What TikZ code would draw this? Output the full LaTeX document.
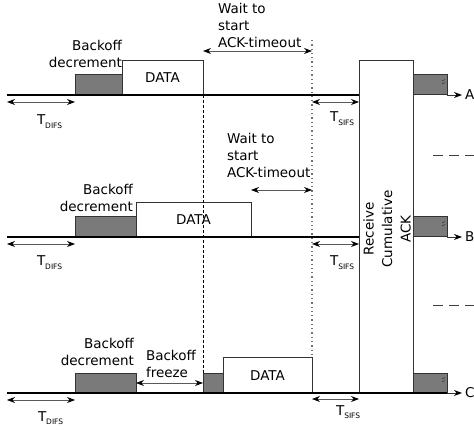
\documentclass[tikz,border=0pt]{standalone}
\usepackage{fontspec}
\setmainfont{DejaVu Sans}
\usetikzlibrary{arrows.meta}
\newcommand\tsub[1]{T\raisebox{-3.5pt}{\fontsize{7.5}{8}\selectfont #1}}
\begin{document}
\begin{tikzpicture}[x=1pt,y=-1pt,
  every node/.style={inner sep=0pt,outer sep=0pt,font=\fontsize{13.5}{17}\selectfont},
  gbox/.style={draw=black!80,fill=black!52,line width=1pt,minimum height=20pt},
  dbox/.style={draw=black!80,fill=white,line width=1pt},
  tl/.style={draw=black,line width=1.1pt},
  dbl/.style={draw=black!65,line width=0.9pt,{Stealth[length=8pt,width=6pt,black]}-{Stealth[length=8pt,width=6pt,black]}},
  sgl/.style={draw=black!80,line width=0.9pt,-{Stealth[length=8pt,width=6pt,black]}},
  vdash/.style={draw=black,line width=0.7pt,dash pattern=on 3pt off 2pt},
  vdot/.style={draw=black!55,line width=1.3pt,dash pattern=on 1.3pt off 3pt},
  hdash/.style={draw=black!75,line width=0.9pt,dash pattern=on 10pt off 6pt},
  brk/.style={draw=black!80,line width=0.5pt}
]
\useasboundingbox (0,0) rectangle (474,430);

% coordinates for timelines
\coordinate (sA) at (7,95);
\coordinate (sB) at (7,237);
\coordinate (sC) at (7,393);

% boxes row A
\node[gbox,minimum width=47pt] (bA) at (98.5,85) {};
\node[dbox,minimum width=81pt,minimum height=34pt] (dA) at (162.5,78) {DATA};
% row B
\node[gbox,minimum width=61pt] (bB) at (105.5,227) {};
\node[dbox,minimum width=115pt,minimum height=34pt] (dB) at (193.5,220) {DATA};
% row C
\node[gbox,minimum width=61pt] (bC1) at (105.5,383) {};
\node[gbox,minimum width=20pt] (bC2) at (213,383) {};
\node[dbox,minimum width=89pt,minimum height=35pt] (dC) at (267.5,375.5) {DATA};

% ACK box
\node[dbox,minimum width=54pt,minimum height=332pt] (ack) at (386,227) {};
\node[rotate=90,align=center,font=\fontsize{13.5}{18.5}\selectfont] (ackt) at (387,229) {Receive\\Cumulative\\ACK};

% right gray boxes
\node[gbox,minimum width=34pt] (rA) at (430,85) {};
\node[gbox,minimum width=34pt] (rB) at (430,227) {};
\node[gbox,minimum width=34pt] (rC) at (430,383) {};

% timelines
\draw[tl] (sA) -- (sA -| ack.west);
\draw[tl] (sB) -- (sB -| ack.west);
\draw[tl] (sC) -- (sC -| rC.east);
\coordinate (eA) at (462,95);
\coordinate (eB) at (462,237);
\coordinate (eC) at (462,393);
\draw[sgl] (rA.south east) -- (eA);
\draw[sgl] (rB.south east) -- (eB);
\draw[sgl] (rC.south east) -- (eC);
\node[anchor=west] (lA) at (465,95) {A};
\node[anchor=west] (lB) at (465,237) {B};
\node[anchor=west] (lC) at (465,393) {C};

% break marks
\foreach \n in {rA,rB,rC}{
  \draw[brk] ([shift={(-5pt,4pt)}]\n.east) -- ++(3pt,1.5pt);
  \draw[brk] ([shift={(-5pt,1pt)}]\n.east) -- ++(3pt,1.5pt);
}

% vertical dashed and dotted lines
\draw[vdash] (dA.south east) -- (bC2.north west);
\coordinate (dotTop) at (312,40);
\draw[vdot] (dotTop) -- (dC.north east);

% right horizontal dashes
\coordinate (hd1) at (433,155);
\coordinate (hd1e) at (474,155);
\coordinate (hd2) at (433,305);
\coordinate (hd2e) at (474,305);
\draw[hdash] (hd1) -- (hd1e);
\draw[hdash] (hd2) -- (hd2e);

% T_DIFS arrows
\coordinate (dfA) at (7,102); \coordinate (dfAe) at (75,102);
\coordinate (dfB) at (7,244); \coordinate (dfBe) at (75,244);
\coordinate (dfC) at (7,400); \coordinate (dfCe) at (75,400);
\draw[dbl] (dfA) -- (dfAe);
\draw[dbl] (dfB) -- (dfBe);
\draw[dbl] (dfC) -- (dfCe);
\node[anchor=base west] (tdA) at (37,125) {\tsub{DIFS}};
\node[anchor=base west] (tdB) at (37,266) {\tsub{DIFS}};
\node[anchor=base west] (tdC) at (38,421) {\tsub{DIFS}};

% T_SIFS arrows
\coordinate (sfA) at (312,102); \coordinate (sfAe) at (359,102);
\coordinate (sfB) at (312,244); \coordinate (sfBe) at (359,244);
\coordinate (sfC) at (312,399); \coordinate (sfCe) at (359,399);
\draw[dbl] (sfA) -- (sfAe);
\draw[dbl] (sfB) -- (sfBe);
\draw[dbl] (sfC) -- (sfCe);
\node[anchor=base west] (tsA) at (330,122) {\tsub{SIFS}};
\node[anchor=base west] (tsB) at (330,266) {\tsub{SIFS}};
\node[anchor=base west] (tsC) at (336,415) {\tsub{SIFS}};

% wait arrows
\coordinate (wAs) at (203,51); \coordinate (wAe) at (312,51);
\coordinate (wBs) at (251,190); \coordinate (wBe) at (312,190);
\draw[dbl] (wAs) -- (wAe);
\draw[dbl] (wBs) -- (wBe);
\node[anchor=west,align=left] (wA) at (218,25) {Wait to\\start\\ACK-timeout};
\node[anchor=west,align=left] (wB) at (227,155) {Wait to\\start\\ACK-timeout};

% backoff freeze
\draw[dbl] (bC1.east) -- (bC2.west);
\node[anchor=west,align=left] (bf) at (146,364) {Backoff\\freeze};

% backoff decrement labels
\node[anchor=east,align=right] (bdA) at (122,54) {Backoff\\decrement};
\node[anchor=east,align=right] (bdB) at (133,198) {Backoff\\decrement};
\node[anchor=east,align=right] (bdC) at (134,352) {Backoff\\decrement};
\end{tikzpicture}
\end{document}
